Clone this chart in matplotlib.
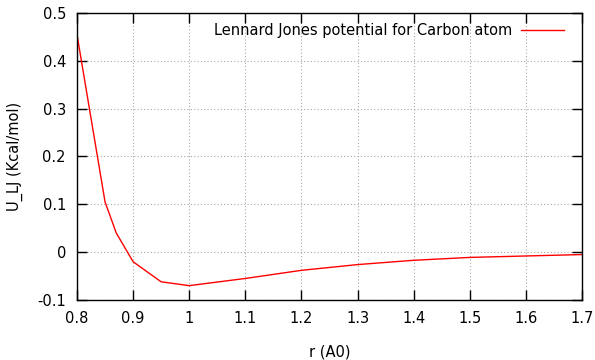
import matplotlib.pyplot as plt

# Lennard-Jones potential samples for the carbon atom
r = [0.80, 0.85, 0.87, 0.90, 0.95, 1.00, 1.10, 1.20, 1.30, 1.40, 1.50, 1.60, 1.70]
u_lj = [0.455, 0.105, 0.040, -0.020, -0.062, -0.070, -0.055, -0.038,
        -0.026, -0.017, -0.011, -0.008, -0.005]

x_ticks = [0.8, 0.9, 1.0, 1.1, 1.2, 1.3, 1.4, 1.5, 1.6, 1.7]
x_labels = ['0.8', '0.9', '1', '1.1', '1.2', '1.3', '1.4', '1.5', '1.6', '1.7']
y_ticks = [-0.1, 0.0, 0.1, 0.2, 0.3, 0.4, 0.5]
y_labels = ['-0.1', '0', '0.1', '0.2', '0.3', '0.4', '0.5']

fig = plt.figure(figsize=(5.95, 3.6), dpi=100)
ax = fig.add_axes([0.1294, 0.1667, 0.8487, 0.7972])

ax.plot(r, u_lj, color='#ff0000', lw=1.0, label='Lennard Jones potential for Carbon atom')

ax.set_xlim(0.8, 1.7)
ax.set_ylim(-0.1, 0.5)
ax.set_xticks(x_ticks)
ax.set_xticklabels(x_labels)
ax.set_yticks(y_ticks)
ax.set_yticklabels(y_labels)

ax.tick_params(direction='in', top=True, right=True, length=7, width=1,
               labelsize=10.5, pad=8)
ax.grid(True, color='#a8a8a8', linestyle=(0, (1, 2)), lw=0.8)
for s in ax.spines.values():
    s.set_linewidth(1.0)

ax.set_xlabel('r (A0)', fontsize=10.5, labelpad=13)
ax.set_ylabel('U_LJ (Kcal/mol)', fontsize=10.5, labelpad=10)

leg = ax.legend(loc='upper right', frameon=False, fontsize=10.5, markerfirst=False,
                handlelength=3.0, handletextpad=0.6, borderaxespad=0.8,
                bbox_to_anchor=(1.0, 1.025))

fig.savefig('out.png', dpi=100)
